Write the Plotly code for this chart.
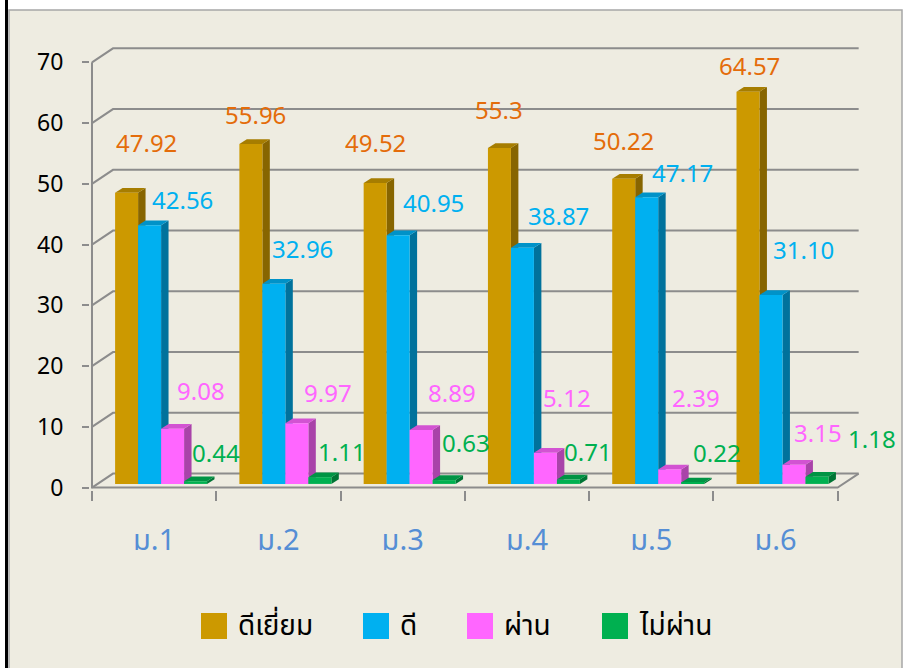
import plotly.graph_objects as go

# ---------------- data ----------------
categories = ["ม.1", "ม.2", "ม.3", "ม.4", "ม.5", "ม.6"]
series_names = ["ดีเยี่ยม", "ดี", "ผ่าน", "ไม่ผ่าน"]
excellent = [47.92, 55.96, 49.52, 55.30, 50.22, 64.57]
good = [42.56, 32.96, 40.95, 38.87, 47.17, 31.10]
passed = [9.08, 9.97, 8.89, 5.12, 2.39, 3.15]
failed = [0.44, 1.11, 0.63, 0.71, 0.22, 1.18]
excellent_labels = ["47.92", "55.96", "49.52", "55.3", "50.22", "64.57"]
good_labels = ["42.56", "32.96", "40.95", "38.87", "47.17", "31.10"]
passed_labels = ["9.08", "9.97", "8.89", "5.12", "2.39", "3.15"]
failed_labels = ["0.44", "1.11", "0.63", "0.71", "0.22", "1.18"]
y_ticks = [0, 10, 20, 30, 40, 50, 60, 70]

series_values = [excellent, good, passed, failed]
series_labels = [excellent_labels, good_labels, passed_labels, failed_labels]

# ---------------- style ----------------
front_colors = ["#CC9900", "#00B0F0", "#FF66FF", "#00B050"]
side_colors = ["#876500", "#00729C", "#A943A9", "#007535"]
top_colors = ["#A67D00", "#0092C8", "#D253D2", "#009444"]
label_colors = ["#E46C0A", "#00B0F0", "#FF66FF", "#00B050"]
# label offsets (pixels: right, up) from the top-centre of each bar, as Excel placed them
label_shift = [
    [(20, 50), (5, 29), (0, 41), (0, 38), (0, 38), (2, 26)],
    [(33, 26), (29, 35), (35, 33), (36, 32), (36, 25), (33, 45)],
    [(28, 38), (31, 31), (31, 37), (22, 55), (26, 72), (24, 32)],
    [(20, 29), (22, 26), (22, 38), (20, 28), (24, 30), (55, 38)],
]
GRID = "#8C8C8C"
PANEL = "#EEECE1"
NUM_FONT = "Noto Sans, DejaVu Sans, sans-serif"
THAI_FONT = "Tahoma, Noto Sans Thai, Noto Sans, sans-serif"

BASE = 0.6          # bars stand slightly inside the 3D floor
BAR_W = 0.185
GROUP_LEFT = -0.314
DX, DY = 0.06, 0.78            # bar depth projection
WALL_DX, WALL_DY = 0.169, 2.3  # back wall projection

L, R, T, B = 90, 42, 38, 178
W, H = 907, 668
PW, PH = W - L - R, H - T - B


def px(xp):
    return (xp - L) / PW


def py(yp):
    return (H - B - yp) / PH


n = len(categories)
x_idx = list(range(n))
x_lo, x_hi = -0.5, n - 0.5

fig = go.Figure()
shapes = []

# panel background and border
shapes.append(dict(type="rect", xref="paper", yref="paper", x0=px(9), x1=px(902),
                   y0=py(10), y1=py(700), fillcolor=PANEL,
                   line=dict(color="#A6A6A6", width=1.5), layer="below"))
shapes.append(dict(type="line", xref="paper", yref="paper", x0=px(6.5), x1=px(6.5),
                   y0=py(0), y1=py(700), line=dict(color="black", width=3), layer="below"))

# gridlines on back/left walls
for v in y_ticks:
    shapes.append(dict(type="path", xref="x", yref="y", layer="below",
                       path=f"M{x_lo},{v} L{x_lo + WALL_DX},{v + WALL_DY} L{x_hi + WALL_DX},{v + WALL_DY}",
                       line=dict(color=GRID, width=2)))
# front axes and floor edge
shapes.append(dict(type="path", xref="x", yref="y", layer="below",
                   path=f"M{x_lo},{y_ticks[-1]} L{x_lo},0 L{x_hi},0 L{x_hi + WALL_DX},{WALL_DY}",
                   line=dict(color=GRID, width=2)))

# 3D side and top faces of bars
for i in x_idx:
    for j, vals in enumerate(series_values):
        left = i + GROUP_LEFT + j * BAR_W
        right = left + BAR_W
        top = BASE + vals[i]
        shapes.append(dict(type="path", xref="x", yref="y", layer="below",
                           path=f"M{right},{BASE} L{right + DX},{BASE + DY} L{right + DX},{top + DY} L{right},{top} Z",
                           fillcolor=side_colors[j], line=dict(width=0)))
        shapes.append(dict(type="path", xref="x", yref="y", layer="below",
                           path=f"M{left},{top} L{left + DX},{top + DY} L{right + DX},{top + DY} L{right},{top} Z",
                           fillcolor=top_colors[j], line=dict(width=0)))

# front faces as bars
for j, vals in enumerate(series_values):
    fig.add_trace(go.Bar(
        x=x_idx, y=vals, base=BASE, width=BAR_W, offset=GROUP_LEFT + j * BAR_W,
        name=series_names[j], marker=dict(color=front_colors[j], line=dict(width=0)),
        showlegend=False, hoverinfo="skip"))

annotations = []
# data labels
for j, vals in enumerate(series_values):
    for i in x_idx:
        annotations.append(dict(
            x=i + GROUP_LEFT + (j + 0.5) * BAR_W, y=vals[i] + BASE, xref="x", yref="y",
            text=series_labels[j][i], showarrow=False, xanchor="center", yanchor="middle",
            xshift=label_shift[j][i][0], yshift=label_shift[j][i][1],
            font=dict(family=NUM_FONT, size=24, color=label_colors[j])))

# custom legend
legend_x = [201, 363, 467, 602]
for j, name in enumerate(series_names):
    shapes.append(dict(type="rect", xref="paper", yref="paper",
                       x0=px(legend_x[j]), x1=px(legend_x[j] + 26), y0=py(639), y1=py(613),
                       fillcolor=front_colors[j], line=dict(width=0)))
    annotations.append(dict(x=px(legend_x[j] + 35), y=py(626), xref="paper", yref="paper",
                            text=name, showarrow=False, xanchor="left", yanchor="middle",
                            font=dict(family=THAI_FONT, size=28, color="black")))

fig.update_layout(
    width=W, height=H,
    margin=dict(l=L, r=R, t=T, b=B),
    paper_bgcolor="white", plot_bgcolor="rgba(0,0,0,0)",
    barmode="overlay", showlegend=False,
    shapes=shapes, annotations=annotations,
    xaxis=dict(range=[-0.516, 5.72], tickmode="array", tickvals=x_idx, ticktext=categories,
               ticks="", showgrid=False, zeroline=False, showline=False,
               ticklabelstandoff=30,
               tickfont=dict(family=THAI_FONT, size=29, color="#558ED5"),
               minor=dict(tickmode="array", tickvals=[v - 0.5 for v in range(n + 1)],
                          ticks="outside", ticklen=10, tickwidth=2, tickcolor=GRID,
                          showgrid=False)),
    yaxis=dict(range=[-0.4, 74.0], tickmode="array", tickvals=y_ticks,
               ticktext=[str(v) for v in y_ticks], ticks="outside", ticklen=7,
               tickwidth=2, tickcolor=GRID, showgrid=False, zeroline=False,
               showline=False, ticklabelstandoff=14,
               tickfont=dict(family=NUM_FONT, size=23, color="black")),
)

fig.write_html("out.html", config={"displayModeBar": False},
               post_script="document.body.style.margin='0';document.body.style.overflow='hidden';")
